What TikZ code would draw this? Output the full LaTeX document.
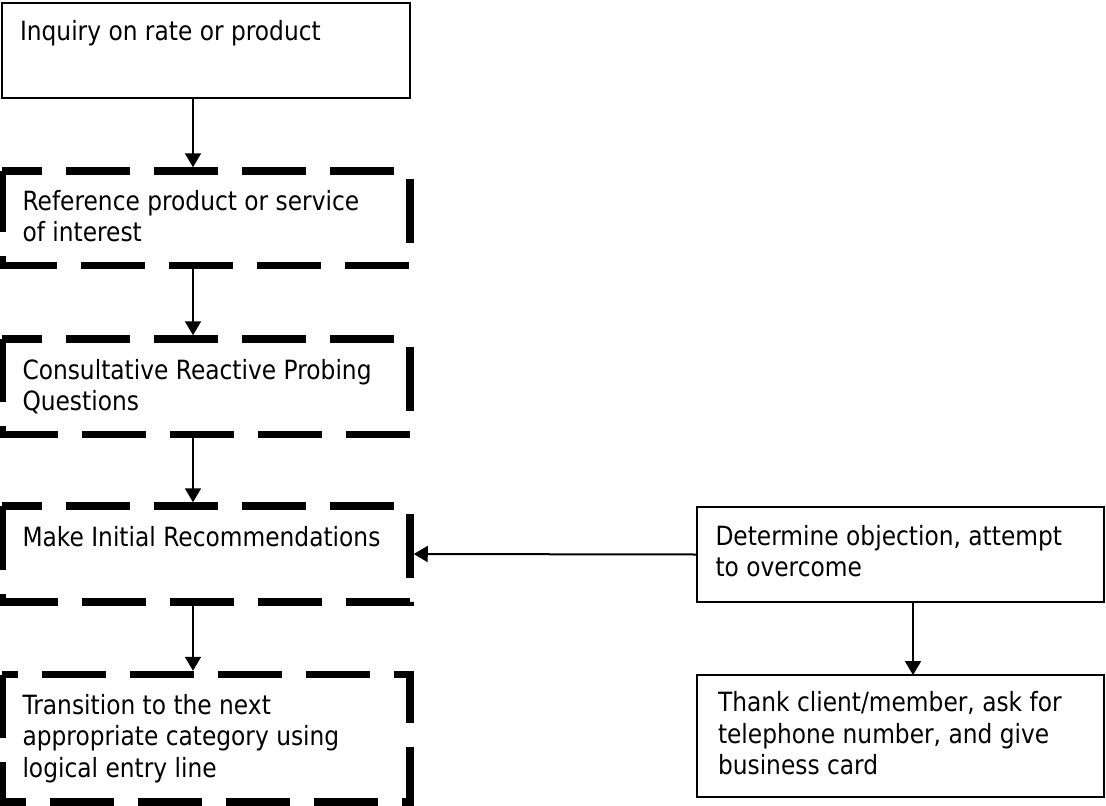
\documentclass[tikz,border=0pt]{standalone}
\usepackage{fontspec}
\setmainfont{DejaVu Sans}[FakeStretch=0.88]
\usetikzlibrary{arrows.meta,calc}
\tikzset{
  solidbox/.style={draw, line width=2.2pt, inner sep=0pt, outer sep=0pt, anchor=north west},
  dashbox/.style={inner sep=0pt, outer sep=0pt, anchor=north west},
  border/.style={line width=7.5pt, dash pattern=on 64pt off 24pt, line join=miter},
  txt/.style={inner sep=0pt, outer sep=0pt, anchor=north west, align=left,
              font=\fontsize{26.5pt}{31.5pt}\selectfont},
  arr/.style={line width=2pt, -{Triangle[length=14pt 0,width=16pt 0]}}
}
\begin{document}
\begin{tikzpicture}[x=1pt,y=-1pt]
\useasboundingbox[fill=white] (0,0) rectangle (1106,806);

% boxes
\node[solidbox, minimum width=408pt, minimum height=95pt] (b1) at (2,3) {};
\node[dashbox, minimum width=408pt, minimum height=94.5pt] (b2) at (2,171) {};
\node[dashbox, minimum width=408pt, minimum height=95.5pt] (b3) at (2,339) {};
\node[dashbox, minimum width=408pt, minimum height=96pt] (b4) at (2,506) {};
\node[dashbox, minimum width=408pt, minimum height=127.5pt] (b5) at (2,674.5) {};
\node[solidbox, minimum width=407pt, minimum height=95pt] (b6) at (697,507) {};
\node[solidbox, minimum width=407pt, minimum height=122pt] (b7) at (697,675) {};

% dashed borders
\draw[border, dash phase=24pt] (b2.north west) -- (b2.north east) -- (b2.south east) -- (b2.south west) -- cycle;
\draw[border, dash phase=24pt] (b3.north west) -- (b3.north east) -- (b3.south east) -- (b3.south west) -- cycle;
\draw[border, dash phase=24pt] (b4.north west) -- (b4.north east) -- (b4.south east) -- (b4.south west) -- cycle;
\draw[border, dash phase=48pt] (b5.north west) -- (b5.north east) -- (b5.south east) -- (b5.south west) -- cycle;

% texts
\node[txt] (t1) at ($(b1.north west)+(18,17)$) {Inquiry on rate or product};
\node[txt] (t2) at ($(b2.north west)+(20.5,19)$) {Reference product or service\\of interest};
\node[txt] (t3) at ($(b3.north west)+(20.5,20)$) {Consultative Reactive Probing\\Questions};
\node[txt] (t4) at ($(b4.north west)+(20.5,20)$) {Make Initial Recommendations};
\node[txt] (t5) at ($(b5.north west)+(20.5,19.5)$) {Transition to the next\\appropriate category using\\logical entry line};
\node[txt] (t6) at ($(b6.north west)+(18.5,18)$) {Determine objection, attempt\\to overcome};
\node[txt] (t7) at ($(b7.north west)+(21,16.7)$) {Thank client/member, ask for\\telephone number, and give\\business card};

% connectors
\coordinate (ax) at (193,0);
\coordinate (bx) at (913,0);
\draw[arr, shorten >=3.75pt] (b1.south -| ax) -- (b2.north -| ax);
\draw[arr, shorten >=3.75pt] (b2.south -| ax) -- (b3.north -| ax);
\draw[arr, shorten >=3.75pt] (b3.south -| ax) -- (b4.north -| ax);
\draw[arr, shorten >=3.75pt] (b4.south -| ax) -- (b5.north -| ax);
\draw[arr, shorten >=3.75pt] (b6.west) -- (b4.east);
\draw[arr] (b6.south -| bx) -- (b7.north -| bx);
\end{tikzpicture}
\end{document}
